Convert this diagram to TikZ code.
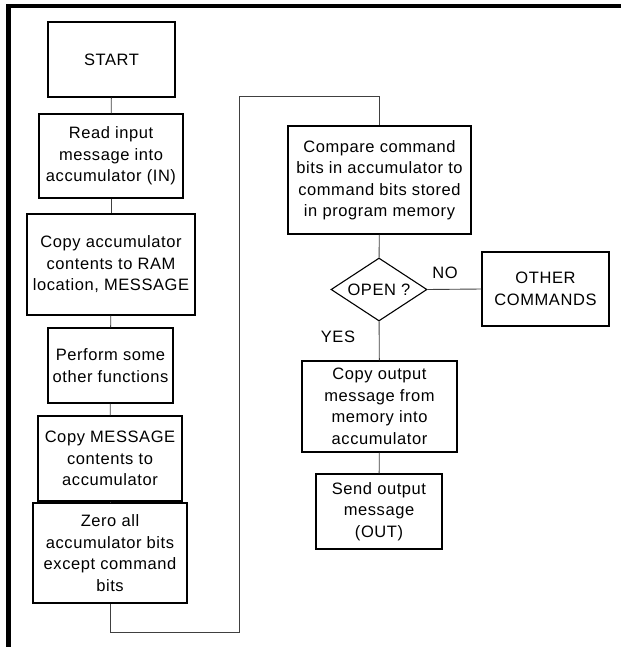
\documentclass[tikz,border=0pt]{standalone}
\usepackage{fontspec}
\setmainfont{Liberation Sans}[LetterSpace=3.5]
\usetikzlibrary{shapes.geometric}
\begin{document}
\begin{tikzpicture}[x=1pt,y=-1pt,
  box/.style={draw=black,line width=1.1pt,rectangle,inner sep=0pt,align=center,
    font=\fontsize{16.5pt}{21.5pt}\selectfont},
  dia/.style={draw=black,line width=1.1pt,diamond,inner sep=0pt,
    minimum width=96pt,minimum height=63pt,aspect=1.52,
    font=\fontsize{16.5pt}{21.5pt}\selectfont},
  lbl/.style={inner sep=0pt,font=\fontsize{16.5pt}{21.5pt}\selectfont},
  conn/.style={draw=black!75,line width=0.9pt},
  frame/.style={line width=4.5pt,draw=black,line join=miter}]
\useasboundingbox (0,0) rectangle (621,647);
\draw[frame] (8.5,647) -- (8.5,6) -- (621,6);

\node[box,minimum width=127pt,minimum height=75pt] (start) at (111.5,59.5) {START};
\node[box,minimum width=144pt,minimum height=84pt] (read) at (111,156) {Read input\\message into\\accumulator (IN)};
\node[box,minimum width=168pt,minimum height=101pt] (copyacc) at (111,264.5) {Copy accumulator\\contents to RAM\\location, MESSAGE};
\node[box,minimum width=125pt,minimum height=75pt] (perform) at (110.5,365.5) {Perform some\\other functions};
\node[box,minimum width=144pt,minimum height=85pt] (copymsg) at (110,458.5) {Copy MESSAGE\\contents to\\accumulator};
\node[box,minimum width=154pt,minimum height=100pt] (zero) at (110,553) {Zero all\\accumulator bits\\except command\\bits};

\node[box,minimum width=183pt,minimum height=108pt] (compare) at (379.5,180) {Compare command\\bits in accumulator to\\command bits stored\\in program memory};
\node[dia] (open) at (379,289.5) {OPEN ?};
\node[box,minimum width=127pt,minimum height=74pt] (other) at (545.5,289) {OTHER\\COMMANDS};
\node[box,minimum width=155pt,minimum height=91pt] (copyout) at (379.5,406.5) {Copy output\\message from\\memory into\\accumulator};
\node[box,minimum width=126pt,minimum height=75pt] (send) at (379,511.5) {Send output\\message\\(OUT)};

\node[lbl] (no) at (445,273) {NO};
\node[lbl] (yes) at (338,337) {YES};

\coordinate (l1) at (zero.south |- 0,632);
\coordinate (l2) at (239,632);
\coordinate (l3) at (239,96);
\coordinate (l4) at (compare.north |- 0,96);

\draw[conn] (start) -- (read);
\draw[conn] (read) -- (copyacc);
\draw[conn] (copyacc) -- (perform);
\draw[conn] (perform) -- (copymsg);
\draw[conn] (copymsg) -- (zero);
\draw[conn] (zero.south) -- (l1) -- (l2) -- (l3) -- (l4) -- (compare.north);
\draw[conn] (compare) -- (open);
\draw[conn] (open.east) -- (other.west);
\draw[conn] (open) -- (copyout);
\draw[conn] (copyout) -- (send);
\end{tikzpicture}
\end{document}
